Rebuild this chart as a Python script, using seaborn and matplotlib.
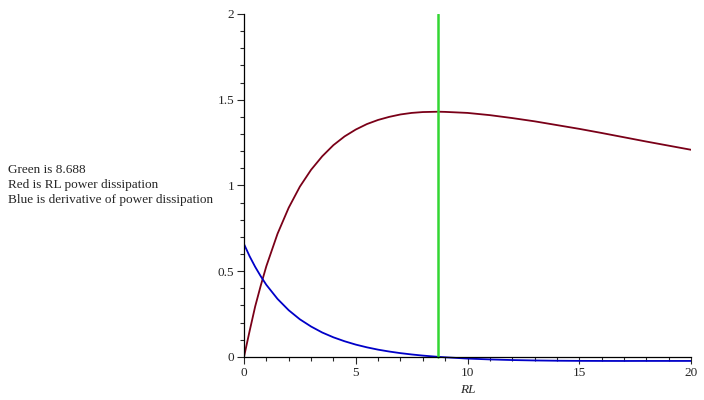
import numpy as np
import pandas as pd
import seaborn as sns
import matplotlib
matplotlib.use("Agg")
import matplotlib.pyplot as plt
from matplotlib.ticker import MultipleLocator, FormatStrFormatter

# values
rl = [0, 0.25, 0.5, 0.75, 1, 1.5, 2, 2.5, 3, 3.5, 4, 4.5, 5, 5.5, 6, 6.5, 7, 7.5, 8,
      8.688, 9, 10, 11, 12, 13, 14, 15, 16, 17, 18, 19, 20]
power = [0, 0.150, 0.294, 0.416, 0.529, 0.718, 0.870, 0.993, 1.091, 1.170, 1.235,
         1.286, 1.326, 1.358, 1.382, 1.400, 1.414, 1.423, 1.428, 1.430, 1.429, 1.423,
         1.410, 1.393, 1.374, 1.352, 1.330, 1.306, 1.281, 1.256, 1.232, 1.208]
deriv = [0.658, 0.587, 0.525, 0.470, 0.420, 0.338, 0.272, 0.219, 0.177, 0.142, 0.114,
         0.091, 0.0715, 0.0555, 0.042, 0.031, 0.0217, 0.014, 0.0074, 0.0, -0.0025,
         -0.010, -0.015, -0.0186, -0.021, -0.0226, -0.0234, -0.0238, -0.0240, -0.0238,
         -0.0238, -0.0238]
green_x = 8.688

df = pd.DataFrame({"RL": rl, "power": power, "deriv": deriv})

sns.set_style("white")
plt.rcParams['font.family'] = ['Liberation Serif', 'DejaVu Serif']

fig = plt.figure(figsize=(7.04, 4.00), dpi=100)
ax = fig.add_axes([244 / 704, 38 / 400, (691 - 244) / 704, (362 - 14) / 400])

sns.lineplot(data=df, x="RL", y="power", ax=ax, color="#7a0018", linewidth=1.3)
sns.lineplot(data=df, x="RL", y="deriv", ax=ax, color="#0000c8", linewidth=1.3)
ax.plot([green_x, green_x], [0, 2], color="#33d633", linewidth=1.8)

ax.set_xlim(0, 20)
ax.set_ylim(-0.03, 2)
for s in ["top", "right"]:
    ax.spines[s].set_visible(False)
ax.spines["bottom"].set_position(("data", 0))
ax.spines["left"].set_bounds(0, 2)
ax.spines["bottom"].set_color("black")
ax.spines["left"].set_color("black")
ax.spines["bottom"].set_linewidth(0.9)
ax.spines["left"].set_linewidth(0.9)

ax.xaxis.set_major_locator(MultipleLocator(5))
ax.xaxis.set_minor_locator(MultipleLocator(1))
ax.yaxis.set_major_locator(MultipleLocator(0.5))
ax.yaxis.set_minor_locator(MultipleLocator(0.1))
ax.yaxis.set_major_formatter(FormatStrFormatter('%g'))
ax.tick_params(which="major", direction="out", length=5, width=0.8, labelsize=9.5,
               bottom=True, left=True, pad=2)
ax.tick_params(which="minor", direction="out", length=3, width=0.8, bottom=True, left=True)

ax.set_xlabel("RL", style="italic", fontsize=9.5, labelpad=0)
ax.set_ylabel("")
ax.xaxis.set_label_coords(0.5, -0.062)

fig.text(8 / 704, 1 - 185 / 400, "Green is 8.688\nRed is RL power dissipation\nBlue is derivative of power dissipation",
         fontsize=9.5, va="center", ha="left", linespacing=1.3)

fig.savefig("out.png", dpi=100)
